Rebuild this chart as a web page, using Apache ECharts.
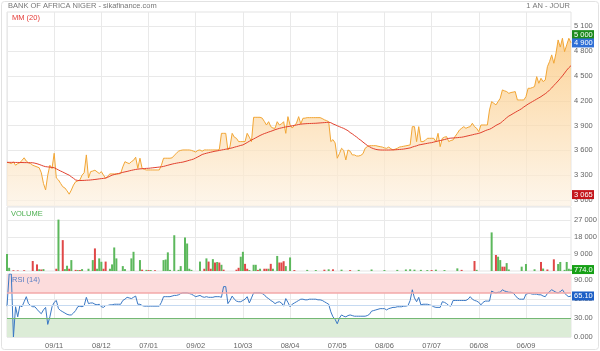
<!DOCTYPE html>
<html>
<head>
<meta charset="utf-8" />
<title>BANK OF AFRICA NIGER</title>
<script type="text/javascript" src="https://cdn.jsdelivr.net/npm/echarts@6.0.0/dist/echarts.min.js"></script>
<style>html,body{margin:0;padding:0;background:#fff;}</style>
</head>
<body>
<div id="chart" style="width:600px;height:351px;"></div>
<script type="text/javascript">
// x labels, one every 22 sessions
var tickLabels = ['09/11', '08/12', '07/01', '09/02', '10/03', '08/04', '07/05', '08/06', '07/07', '06/08', '06/09'];

// daily close (FCFA)
var price = [
  3455,3450,3440,3460,3420,3440,3450,3480,3510,3470,3450,3440,3420,3410,3400,3390,3330,3200,3121,3300,3420,3380,
  3565,3266,3242,3200,3160,3145,3110,3070,3120,3180,3220,3230,3242,3300,3330,3545,3266,3343,3350,3360,3340,3320,
  3343,3300,3262,3290,3315,3315,3315,3315,3315,3320,3400,3463,3450,3440,3463,3480,3517,3383,3505,3383,3370,3363,
  3363,3363,3363,3363,3363,3363,3420,3505,3505,3505,3505,3510,3540,3565,3590,3600,3605,3605,3605,3605,3600,3590,
  3580,3600,3605,3590,3605,3605,3605,3605,3605,3605,3605,3610,3806,3806,3806,3605,3650,3806,3760,3746,3706,3706,
  3706,3706,3806,3760,3706,4000,4000,4000,4000,3990,3950,3907,3947,3887,3870,3867,3947,3907,3920,3947,3806,4008,
  3907,3870,3900,3930,4008,3920,3988,3990,3996,3996,3996,3996,3996,3996,3996,3985,3970,3960,3947,3706,3730,3690,
  3505,3560,3625,3600,3484,3605,3590,3545,3545,3532,3532,3540,3560,3625,3645,3657,3657,3657,3657,3650,3645,3640,
  3630,3625,3640,3620,3605,3615,3625,3640,3645,3650,3655,3660,3666,3887,3887,3706,3887,3706,3706,3720,3746,3746,
  3746,3746,3706,3806,3645,3746,3760,3766,3706,3720,3726,3770,3806,3847,3867,3887,3867,3880,3887,3928,3887,3867,
  3826,3907,3907,3907,3907,4089,4190,4170,4150,4190,4230,4331,4320,4311,4290,4300,4305,4311,4210,4210,4210,4210,
  4250,4351,4351,4360,4372,4492,4412,4472,4432,4452,4613,4674,4755,4654,4775,4936,4850,4956,4795,4876,4956,4900
];

// MM (20) as drawn
var ma20 = [
  3455,3455,3455,3455,3454,3454,3453,3453,3452,3452,3451,3451,3450,3445,3438,3430,3420,3410,3403,3400,3397,3394,
  3390,3377,3363,3350,3338,3325,3312,3300,3280,3262,3242,3236,3235,3236,3237,3239,3240,3242,3245,3248,3251,3255,
  3258,3261,3265,3275,3288,3300,3307,3314,3320,3327,3334,3340,3345,3352,3358,3364,3369,3373,3376,3378,3380,3382,
  3383,3386,3389,3392,3395,3398,3401,3406,3413,3420,3427,3434,3440,3445,3450,3454,3458,3465,3472,3480,3487,3495,
  3508,3521,3535,3550,3558,3565,3572,3578,3584,3590,3594,3599,3604,3609,3614,3619,3625,3630,3638,3645,3652,3660,
  3666,3680,3695,3710,3725,3738,3752,3766,3780,3792,3803,3812,3822,3830,3840,3850,3858,3866,3872,3878,3884,3888,
  3892,3897,3902,3907,3913,3917,3920,3922,3924,3925,3926,3927,3928,3930,3932,3934,3936,3938,3940,3935,3920,3910,
  3898,3887,3876,3866,3852,3838,3816,3800,3780,3762,3740,3722,3700,3680,3660,3645,3630,3620,3612,3607,3605,3604,
  3604,3604,3604,3605,3606,3607,3609,3611,3613,3616,3620,3625,3630,3640,3648,3655,3665,3670,3675,3680,3685,3690,
  3693,3700,3707,3713,3718,3725,3731,3738,3745,3748,3750,3752,3754,3757,3759,3764,3770,3776,3782,3788,3795,3800,
  3806,3815,3826,3838,3848,3855,3868,3885,3902,3915,3928,3950,3972,3995,4015,4029,4045,4060,4075,4089,4105,4125,
  4142,4160,4175,4190,4205,4220,4235,4250,4268,4285,4305,4331,4355,4385,4412,4440,4470,4501,4535,4570,4600,4625
];

// RSI (14)
var rsi = [
  49,100,100,0,48,32,50,48,56,64,53,50,48,48,44,40,37,43,47,20,32,48,
  55,58,45,42,40,38,36,35,35,38,42,48,49,48,50,63,53,54,54,52,51,52,
  48,47,50,50,51,51,52,52,52,52,58,60,63,62,61,63,65,52,52,50,49,49,
  49,49,49,49,49,49,55,64,64,64,64,65,66,66,67,69,70,70,70,69,68,66,
  64,65,66,64,63,64,63,63,63,64,64,64,63,80,80,53,58,65,60,57,56,56,
  58,60,64,54,62,70,70,70,70,69,67,63,61,58,56,53,55,56,54,49,61,55,
  48,52,54,56,58,60,60,59,59,60,60,60,60,59,59,58,56,54,52,40,32,28,
  21,30,35,33,32,34,35,34,33,33,33,33,33,33,34,36,41,42,43,44,45,45,
  45,43,45,46,47,47,48,48,48,49,49,50,58,75,62,56,63,51,52,52,52,51,
  50,48,47,47,47,56,55,53,50,49,58,58,58,58,58,58,58,60,64,60,58,57,
  55,51,55,57,57,57,73,71,70,71,71,75,73,72,71,71,70,66,62,60,60,60,
  68,69,69,68,68,68,67,67,65,64,69,72,75,73,71,70,72,75,70,66,64,65.1
];

// volume: [session, shares], green = up day, red = down day
var volUp = [
  [0,9000],[1,1700],[15,900],[17,1000],[24,27300],[27,1000],[28,2800],[30,5800],[33,500],[35,1000],
  [38,1200],[40,5800],[42,1200],[43,6700],[44,4900],[48,1200],[49,3500],[50,12500],[51,6700],[54,2600],
  [55,1000],[58,6700],[59,10200],[62,5800],[65,600],[67,500],[73,5800],[74,6100],[75,9900],[76,600],
  [78,19000],[80,600],[81,2600],[83,17800],[84,14600],[85,1200],[86,600],[90,5000],[93,6700],[96,6300],
  [98,4800],[100,3300],[109,7600],[110,10200],[113,500],[115,3300],[116,3300],[118,1200],[122,1200],[124,1200],
  [126,8000],[130,2600],[132,7200],[140,600],[144,500],[150,900],[156,700],[164,600],[170,800],[176,500],
  [182,600],[186,800],[188,900],[190,700],[193,600],[196,500],[200,700],[204,500],[210,1400],[219,600],
  [226,20500],[229,7600],[230,5800],[233,4200],[234,800],[240,2300],[242,3700],[246,900],[250,1300],[257,3700],
  [258,4800],[260,600],[261,4800],[262,1200],[263,774]
];
var volDown = [
  [3,400],[5,300],[8,400],[12,5300],[14,3500],[16,800],[23,1200],[26,16400],[29,1200],[32,600],
  [34,500],[41,12000],[45,1200],[46,5000],[63,700],[66,500],[69,400],[92,1200],[94,5000],[95,1200],
  [97,4500],[99,4500],[101,700],[107,700],[108,1700],[111,3800],[112,1200],[117,600],[120,1200],[121,1200],
  [123,3800],[127,4500],[128,4500],[129,5200],[134,500],[148,700],[152,900],[160,500],[198,500],[212,600],
  [218,5300],[228,8500],[231,2300],[232,2300],[249,4800],[252,800],[255,6200]
];

var priceTicks = [3000, 3300, 3600, 3900, 4200, 4500, 4800, 5100];
var volumeTicks = [9000, 18000, 27000];
var rsiTicks = [0, 30, 60, 90];

var days = [];
for (var i = 0; i < price.length; i++) {
  days.push(i > 0 && i % 22 === 0 ? tickLabels[i / 22 - 1] : '');
}

function spaced(v) {
  return String(v).replace(/\B(?=(\d{3})+(?!\d))/g, ' ');
}

var FONT = '"Liberation Sans", Arial, sans-serif';
var GRID_LINE = '#e9e9e9';

function xAxisFor(gridIndex, showLabel) {
  return {
    type: 'category', gridIndex: gridIndex, data: days, boundaryGap: false,
    axisLine: { show: false }, axisTick: { show: false },
    axisLabel: { show: showLabel, interval: 21, color: '#666', fontSize: 7.5, fontFamily: FONT, margin: 5 },
    splitLine: { show: true, interval: 21, lineStyle: { color: GRID_LINE, width: 1 } }
  };
}

function yAxisFor(gridIndex, min, max, ticks, fmt) {
  return {
    type: 'value', gridIndex: gridIndex, position: 'right', min: min, max: max,
    axisLine: { show: false },
    axisTick: { show: false, customValues: ticks },
    axisLabel: { customValues: ticks, formatter: fmt, color: '#666', fontSize: 7.5, fontFamily: FONT, margin: 3 },
    splitLine: { show: true, lineStyle: { color: GRID_LINE, width: 1 } }
  };
}

// coloured value boxes at the right edge
function tag(value, bg, text) {
  return {
    yAxis: value,
    lineStyle: { color: 'rgba(0,0,0,0)', width: 1 },
    label: {
      show: true, position: 'end', distance: 1, formatter: text,
      color: '#fff', backgroundColor: bg, padding: [1, 2, 0, 2],
      fontSize: 7.5, fontFamily: FONT, width: 18
    }
  };
}

var chart = echarts.init(document.getElementById('chart'));
var option = {
  backgroundColor: '#fff',
  animation: false,
  title: [
    { text: 'BANK OF AFRICA NIGER - sikafinance.com', left: 8, top: 2, padding: 0,
      textStyle: { color: '#777', fontSize: 7.5, fontWeight: 'normal', fontFamily: FONT } },
    { text: '1 AN - JOUR', right: 30, top: 2, padding: 0,
      textStyle: { color: '#777', fontSize: 7.5, fontWeight: 'normal', fontFamily: FONT } },
    { text: 'MM (20)', left: 12, top: 14, padding: 0,
      textStyle: { color: '#e53935', fontSize: 7.5, fontWeight: 'normal', fontFamily: FONT } },
    { text: 'VOLUME', left: 11, top: 210, padding: 0,
      textStyle: { color: '#4caf50', fontSize: 7.5, fontWeight: 'normal', fontFamily: FONT } },
    { text: 'RSI (14)', left: 12, top: 276, padding: 0,
      textStyle: { color: '#5a7fc4', fontSize: 7.5, fontWeight: 'normal', fontFamily: FONT } }
  ],
  graphic: [
    { type: 'rect', shape: { x: 1.5, y: 1.5, width: 597, height: 348, r: 3 },
      style: { fill: 'none', stroke: '#e2e2e2', lineWidth: 1 }, silent: true, z: -1 }
  ],
  grid: [
    { left: 7, right: 29, top: 12, height: 194, show: true, borderColor: '#e3e3e3', borderWidth: 1 },
    { left: 7, right: 29, top: 207, height: 64, show: true, borderColor: '#e3e3e3', borderWidth: 1 },
    { left: 7, right: 29, top: 274, height: 63, show: true, borderColor: '#e3e3e3', borderWidth: 1 }
  ],
  xAxis: [xAxisFor(0, false), xAxisFor(1, false), xAxisFor(2, true)],
  yAxis: [
    yAxisFor(0, 2927, 5274, priceTicks, spaced),
    yAxisFor(1, 0, 34000, volumeTicks, spaced),
    yAxisFor(2, 0, 100, rsiTicks, function (v) { return v === 0 ? '0.000' : v.toFixed(2); })
  ],
  series: [
    {
      name: 'Cours', type: 'line', xAxisIndex: 0, yAxisIndex: 0, data: price,
      symbol: 'none', lineStyle: { color: '#f2a635', width: 1 },
      areaStyle: {
        origin: 'start',
        color: new echarts.graphic.LinearGradient(0, 0, 0, 1, [
          { offset: 0, color: '#fbc270' },
          { offset: 1, color: '#fdf2e3' }
        ])
      },
      markLine: {
        silent: true, symbol: 'none', animation: false,
        data: [
          tag(5000, '#1c8a1c', '5 000'),
          tag(4900, '#2f6fd6', '4 900'),
          tag(3065, '#c4161c', '3 065')
        ]
      }
    },
    {
      name: 'MM (20)', type: 'line', xAxisIndex: 0, yAxisIndex: 0, data: ma20,
      symbol: 'none', lineStyle: { color: '#e2412f', width: 1 }, z: 3
    },
    {
      name: 'Volume +', type: 'bar', xAxisIndex: 1, yAxisIndex: 1, data: volUp,
      barWidth: 2, itemStyle: { color: '#5cb85c' },
      markLine: { silent: true, symbol: 'none', animation: false, data: [tag(774, '#16a016', '774.0')] }
    },
    {
      name: 'Volume -', type: 'bar', xAxisIndex: 1, yAxisIndex: 1, data: volDown,
      barWidth: 2, barGap: '-100%', itemStyle: { color: '#e04848' }
    },
    {
      name: 'RSI', type: 'line', xAxisIndex: 2, yAxisIndex: 2, data: rsi,
      symbol: 'none', lineStyle: { color: '#3a78c4', width: 1 }, z: 4,
      markArea: {
        silent: true,
        data: [
          [{ yAxis: 70, itemStyle: { color: '#fcdcdc' } }, { yAxis: 100 }],
          [{ yAxis: 0, itemStyle: { color: '#dcecd7' } }, { yAxis: 30 }]
        ]
      },
      markLine: {
        silent: true, symbol: 'none', animation: false,
        label: { show: false },
        data: [
          { yAxis: 70, lineStyle: { color: '#f3a9a9', width: 1.5, type: 'solid' } },
          { yAxis: 50, lineStyle: { color: '#c6daf1', width: 1, type: 'solid' } },
          { yAxis: 30, lineStyle: { color: '#74b874', width: 1, type: 'solid' } },
          tag(65.1, '#1d5fc6', '65.10')
        ]
      }
    }
  ]
};
chart.setOption(option);
</script>
</body>
</html>
